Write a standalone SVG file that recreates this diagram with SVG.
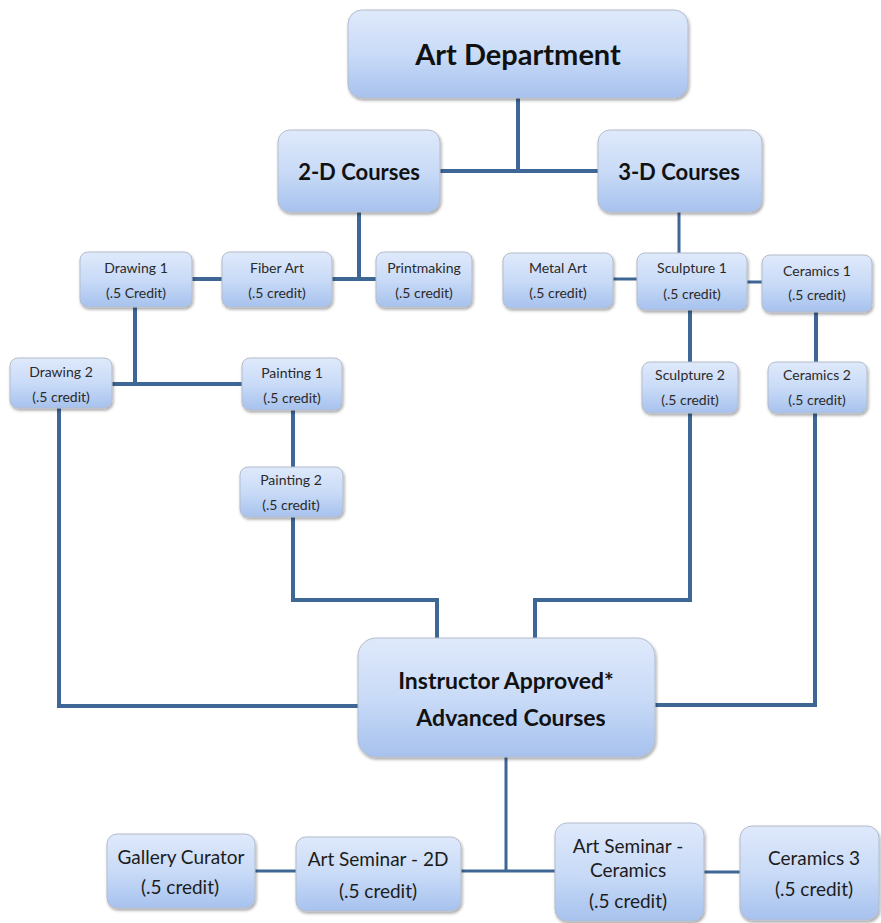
<svg xmlns="http://www.w3.org/2000/svg" width="881" height="923" viewBox="0 0 881 923">
<defs>
<linearGradient id="g" x1="0" y1="0" x2="0" y2="1">
<stop offset="0" stop-color="#dfe9fb"/>
<stop offset="0.5" stop-color="#c9dbf7"/>
<stop offset="1" stop-color="#a7c2ee"/>
</linearGradient>
<filter id="sh" x="-10%" y="-10%" width="125%" height="130%">
<feDropShadow dx="1" dy="2" stdDeviation="1.5" flood-color="#000" flood-opacity="0.35"/>
</filter>
</defs>
<style>
.box{fill:url(#g);stroke:#b3bccb;stroke-width:1;filter:url(#sh)}
.c{fill:none;stroke:#3e6796;stroke-width:4;stroke-linejoin:miter;stroke-linecap:square}
.t{stroke-width:3}
text{font-family:Lato,"Liberation Sans",sans-serif;fill:#1c1c1c;text-anchor:middle}
.xl{font-size:29px;font-weight:bold;fill:#111}
.l{font-size:22px;font-weight:bold;fill:#111}
.ib{font-size:23px;font-weight:bold;fill:#111}
.s{font-size:14px;fill:#2a2a2a}
.m{font-size:19px}
</style>
<rect width="881" height="923" fill="#fff"/>
<g id="connectors">
<path class="c" d="M518,98 V171 M440,171 H598"/>
<path class="c" d="M359,212 V279 M192,279 H222 M332,279 H376"/>
<path class="c t" d="M679,212 V253 M613,279 H637 M747,282 H762"/>
<path class="c" d="M135,307 V384 M112,384 H242"/>
<path class="c" d="M293,410 V467 M293,517 V600 H437 V638"/>
<path class="c" d="M59,408 V706 H358"/>
<path class="c" d="M690,310 V362 M690,413 V600 H535 V638"/>
<path class="c" d="M816,312 V362 M815,413 V705 H655"/>
<path class="c t" d="M506,757 V871 M461,871 H555"/>
<path class="c t" d="M255,871 H296 M704,872 H740"/>
</g>
<g id="art-department"><rect class="box" x="348" y="10" width="340" height="88" rx="14"/><text class="xl" x="518" y="65">Art Department</text></g>
<g id="courses-2d"><rect class="box" x="278" y="130" width="162" height="82" rx="12"/><text class="l" x="359" y="180">2-D Courses</text></g>
<g id="courses-3d"><rect class="box" x="598" y="130" width="164" height="82" rx="12"/><text class="l" x="679" y="180">3-D Courses</text></g>
<g id="drawing1"><rect class="box" x="80" y="252" width="112" height="55" rx="8"/><text class="s" x="136" y="273">Drawing 1</text><text class="s" x="136" y="298">(.5 Credit)</text></g>
<g id="fiber-art"><rect class="box" x="222" y="252" width="110" height="55" rx="8"/><text class="s" x="277" y="273">Fiber Art</text><text class="s" x="277" y="298">(.5 credit)</text></g>
<g id="printmaking"><rect class="box" x="376" y="252" width="96" height="55" rx="8"/><text class="s" x="424" y="273">Printmaking</text><text class="s" x="424" y="298">(.5 credit)</text></g>
<g id="metal-art"><rect class="box" x="503" y="253" width="110" height="55" rx="8"/><text class="s" x="558" y="273">Metal Art</text><text class="s" x="558" y="298">(.5 credit)</text></g>
<g id="sculpture1"><rect class="box" x="637" y="253" width="110" height="57" rx="8"/><text class="s" x="692" y="273">Sculpture 1</text><text class="s" x="692" y="299">(.5 credit)</text></g>
<g id="ceramics1"><rect class="box" x="762" y="255" width="110" height="57" rx="8"/><text class="s" x="817" y="276">Ceramics 1</text><text class="s" x="817" y="300">(.5 credit)</text></g>
<g id="drawing2"><rect class="box" x="10" y="358" width="102" height="50" rx="8"/><text class="s" x="61" y="377">Drawing 2</text><text class="s" x="61" y="402">(.5 credit)</text></g>
<g id="painting1"><rect class="box" x="242" y="358" width="100" height="52" rx="8"/><text class="s" x="292" y="378">Painting 1</text><text class="s" x="292" y="403">(.5 credit)</text></g>
<g id="sculpture2"><rect class="box" x="642" y="362" width="96" height="51" rx="8"/><text class="s" x="690" y="380">Sculpture 2</text><text class="s" x="690" y="405">(.5 credit)</text></g>
<g id="ceramics2"><rect class="box" x="768" y="362" width="99" height="51" rx="8"/><text class="s" x="817" y="380">Ceramics 2</text><text class="s" x="817" y="405">(.5 credit)</text></g>
<g id="painting2"><rect class="box" x="240" y="467" width="103" height="50" rx="8"/><text class="s" x="291" y="485">Painting 2</text><text class="s" x="291" y="510">(.5 credit)</text></g>
<g id="advanced"><rect class="box" x="358" y="638" width="297" height="119" rx="18"/><text class="ib" x="506" y="689">Instructor Approved*</text><text class="ib" x="511" y="726">Advanced Courses</text></g>
<g id="gallery-curator"><rect class="box" x="107" y="834" width="148" height="74" rx="10"/><text class="m" x="181" y="864">Gallery Curator</text><text class="m" x="180" y="894">(.5 credit)</text></g>
<g id="art-seminar-2d"><rect class="box" x="296" y="837" width="165" height="74" rx="10"/><text class="m" x="378" y="866">Art Seminar - 2D</text><text class="m" x="378" y="898">(.5 credit)</text></g>
<g id="art-seminar-ceramics"><rect class="box" x="555" y="823" width="149" height="98" rx="12"/><text class="m" x="628" y="853">Art Seminar -</text><text class="m" x="628" y="877">Ceramics</text><text class="m" x="628" y="908">(.5 credit)</text></g>
<g id="ceramics3"><rect class="box" x="740" y="826" width="139" height="94" rx="12"/><text class="m" x="814" y="865">Ceramics 3</text><text class="m" x="814" y="896">(.5 credit)</text></g>
</svg>
